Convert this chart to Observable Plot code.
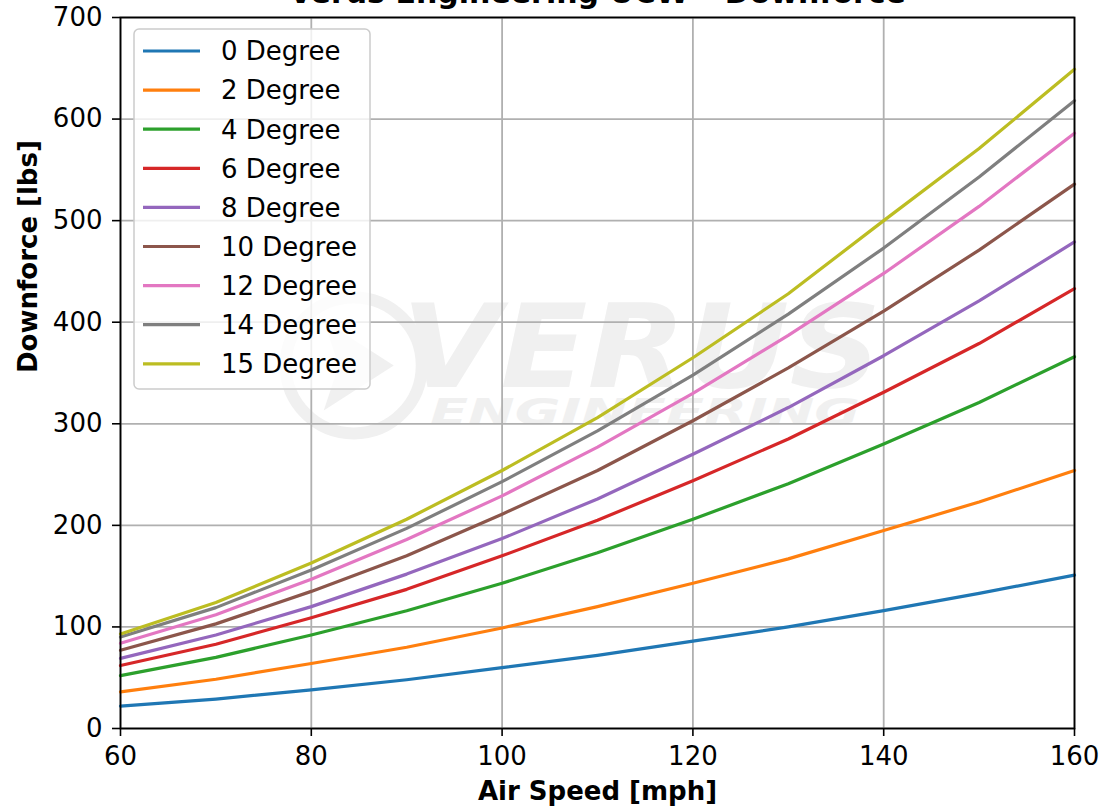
<!DOCTYPE html>
<html>
<head>
<meta charset="utf-8">
<script src="https://cdn.jsdelivr.net/npm/d3@7"></script>
<script src="https://cdn.jsdelivr.net/npm/@observablehq/plot@0.6"></script>
<style>
  html, body { margin: 0; padding: 0; background: #fff; overflow: hidden; }
  #chart svg { display: block; }
</style>
</head>
<body>
<div id="chart"></div>
<script>
// ---- data ----
const titleText = "Verus Engineering UCW – Downforce";
const xLabel = "Air Speed [mph]";
const yLabel = "Downforce [lbs]";
const speeds = [60, 70, 80, 90, 100, 110, 120, 130, 140, 150, 160];
const seriesNames = ["0 Degree", "2 Degree", "4 Degree", "6 Degree", "8 Degree", "10 Degree", "12 Degree", "14 Degree", "15 Degree"];
const deg0  = [22, 29, 38, 48, 60, 72, 86, 100, 116, 133, 151];
const deg2  = [36, 48.5, 64, 80, 99, 120, 143, 167, 195, 223, 254];
const deg4  = [52, 70, 92, 116, 143, 173, 206, 241, 280, 321, 366];
const deg6  = [62, 83, 109, 137, 170, 205, 244, 285, 331, 379, 433];
const deg8  = [69, 92, 120, 152, 187, 226, 270, 316, 367, 421, 479];
const deg10 = [77, 103, 135, 170, 211, 254, 303, 355, 411, 471, 536];
const deg12 = [84, 112, 147, 186, 229, 277, 330, 387, 448, 514, 586];
const deg14 = [90, 119, 156, 197, 243, 293, 348, 408, 473, 543, 618];
const deg15 = [93, 124, 163, 206, 254, 306, 365, 428, 500, 571, 649];
const seriesValues = [deg0, deg2, deg4, deg6, deg8, deg10, deg12, deg14, deg15];
const colors = ["#1f77b4", "#ff7f0e", "#2ca02c", "#d62728", "#9467bd", "#8c564b", "#e377c2", "#7f7f7f", "#bcbd22"];
const xTicks = [60, 80, 100, 120, 140, 160];
const yTicks = [0, 100, 200, 300, 400, 500, 600, 700];

// tidy table
const rows = [];
seriesNames.forEach((name, i) => {
  speeds.forEach((s, j) => rows.push({series: name, speed: s, force: seriesValues[i][j]}));
});

const FONT = "DejaVu Sans";
const FS = 26;

const plot = Plot.plot({
  width: 1104,
  height: 809,
  marginLeft: 120,
  marginRight: 30,
  marginTop: 17,
  marginBottom: 81,
  style: {fontFamily: FONT, fontSize: FS + "px", background: "white", overflow: "visible"},
  x: {domain: [60, 160]},
  y: {domain: [0, 700]},
  color: {domain: seriesNames, range: colors},
  marks: [
    Plot.gridX(xTicks, {stroke: "#b0b0b0", strokeOpacity: 1, strokeWidth: 1.8}),
    Plot.gridY(yTicks, {stroke: "#b0b0b0", strokeOpacity: 1, strokeWidth: 1.8}),
    Plot.line(rows, {x: "speed", y: "force", z: "series", stroke: "series", strokeWidth: 3.2, curve: "linear"}),
    Plot.frame({stroke: "black", strokeWidth: 1.8}),
    Plot.axisX(xTicks, {tickSize: 8, tickPadding: 10, fontSize: FS, label: null, strokeWidth: 1.6, color: "black"}),
    Plot.axisY(yTicks, {tickSize: 8, tickPadding: 10, fontSize: FS, label: null, strokeWidth: 1.6, color: "black"}),
    Plot.text([xLabel], {frameAnchor: "bottom", dy: 71, fontWeight: "bold", fontSize: FS, fill: "black"}),
    Plot.text([yLabel], {frameAnchor: "left", dx: -92, rotate: -90, fontWeight: "bold", fontSize: FS, fill: "black"}),
    Plot.text([titleText], {frameAnchor: "top", dy: -36, fontWeight: "bold", fontSize: 30, fill: "black"})
  ]
});

document.getElementById("chart").appendChild(plot);

// ---- watermark & legend drawn relative to the plot frame ----
const xs = plot.scale("x"), ys = plot.scale("y");
const [fx0, fx1] = xs.range;
const [fy0, fy1] = ys.range; // fy0 bottom, fy1 top
const fw = fx1 - fx0, fh = fy0 - fy1;
const svg = d3.select(plot);

// watermark (behind everything)
const WM = "#f0f0f0";
const wm = svg.insert("g", "g").attr("fill", WM).attr("stroke", "none").attr("text-anchor", "start");
const cx = fx0 + fw * 0.245, cy = fy1 + fh * 0.49;
wm.append("circle").attr("cx", cx).attr("cy", cy).attr("r", 68)
  .attr("fill", "none").attr("stroke", WM).attr("stroke-width", 12);
wm.append("path")
  .attr("d", `M${cx - 30},${cy - 45} L${cx + 40},${cy} L${cx - 30},${cy + 45} L${cx - 15},${cy} Z`)
  .attr("fill", WM);
wm.append("text").attr("x", fx0 + fw * 0.295).attr("y", fy1 + fh * 0.52)
  .attr("font-family", FONT).attr("font-weight", "bold").attr("font-style", "italic")
  .attr("font-size", 115).attr("textLength", 480).attr("lengthAdjust", "spacingAndGlyphs")
  .text("VERUS");
wm.append("text").attr("x", fx0 + fw * 0.325).attr("y", fy1 + fh * 0.572)
  .attr("font-family", FONT).attr("font-weight", "bold").attr("font-style", "italic")
  .attr("font-size", 36).attr("textLength", 430).attr("lengthAdjust", "spacingAndGlyphs")
  .text("ENGINEERING");

// legend
const lg = svg.append("g").attr("text-anchor", "start");
const lx = fx0 + 14, ly = fy1 + 12, lw = 236, rowH = 39.1;
const lh = rowH * seriesNames.length + 8;
lg.append("rect").attr("x", lx).attr("y", ly).attr("width", lw).attr("height", lh)
  .attr("rx", 5).attr("fill", "white").attr("fill-opacity", 0.8)
  .attr("stroke", "#cccccc").attr("stroke-width", 1.5);
seriesNames.forEach((name, i) => {
  const yy = ly + 22 + i * rowH;
  lg.append("line").attr("x1", lx + 9).attr("x2", lx + 66).attr("y1", yy).attr("y2", yy)
    .attr("stroke", colors[i]).attr("stroke-width", 3.2);
  lg.append("text").attr("x", lx + 87).attr("y", yy).attr("dy", "0.36em")
    .attr("font-family", FONT).attr("font-size", FS).attr("fill", "black").text(name);
});
</script>
</body>
</html>
